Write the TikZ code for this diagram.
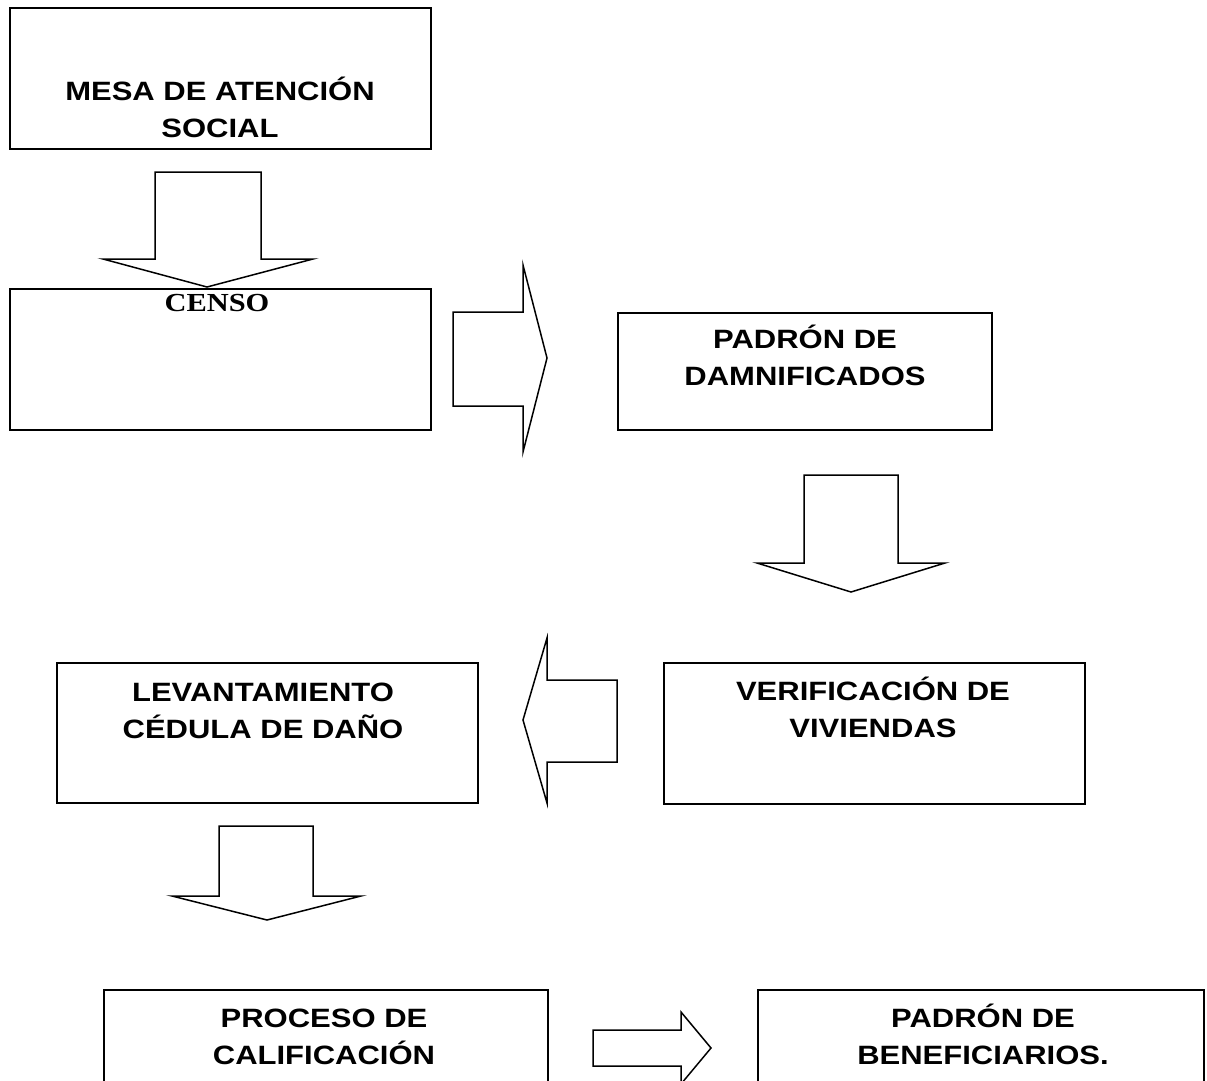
\documentclass[tikz,border=0pt]{standalone}
\usepackage{fontspec}
\setmainfont{Liberation Sans}
\newfontfamily\censofont{Liberation Serif}
\usepackage{graphicx}
\newcommand{\bxt}[1]{\scalebox{1.17}[1]{\begin{tabular}{@{}c@{}}#1\end{tabular}}}
\begin{document}
\begin{tikzpicture}[x=1pt,y=1pt,
  boxnode/.style={draw, line width=1.8pt, inner sep=0pt, anchor=north west},
  label/.style={inner sep=0pt, font=\fontsize{26.5pt}{37pt}\selectfont\bfseries},
  blk/.style={draw, line width=1.5pt, line join=miter, fill=white}]
\useasboundingbox (0,0) rectangle (1207,-1081);
\clip (0,0) rectangle (1207,-1081);

% boxes
\node[boxnode, minimum width=421pt, minimum height=141pt] (mesa) at (9,-7) {};
\node[boxnode, minimum width=421pt, minimum height=141pt] (censo) at (9,-288) {};
\node[boxnode, minimum width=374pt, minimum height=117pt] (damn) at (617,-312) {};
\node[boxnode, minimum width=421pt, minimum height=141pt] (verif) at (663,-662) {};
\node[boxnode, minimum width=421pt, minimum height=140pt] (levant) at (56,-662) {};
\node[boxnode, minimum width=444pt, minimum height=140pt] (proceso) at (103,-989) {};
\node[boxnode, minimum width=446pt, minimum height=140pt] (benef) at (757,-989) {};

% texts
\node[label] (tmesa) at (220,-112) {\bxt{MESA DE ATENCIÓN\\SOCIAL}};
\node[inner sep=0pt, font=\censofont\fontsize{26pt}{30pt}\selectfont\bfseries] (tcenso) at (217,-303) {\scalebox{1.17}[1]{CENSO}};
\node[label] (tdamn) at (805,-360) {\bxt{PADRÓN DE\\DAMNIFICADOS}};
\node[label] (tverif) at (873,-711.5) {\bxt{VERIFICACIÓN DE\\VIVIENDAS}};
\node[label] (tlevant) at (263,-712.5) {\bxt{LEVANTAMIENTO\\CÉDULA DE DAÑO}};
\node[label] (tproceso) at (324,-1038.5) {\bxt{PROCESO DE\\CALIFICACIÓN}};
\node[label] (tbenef) at (983,-1038.5) {\bxt{PADRÓN DE\\BENEFICIARIOS.}};

% block arrows
% 1 down: mesa -> censo
\draw[blk] (155,-172) -- (261,-172) -- (261,-259) -- (313,-259) -- (207,-287)
  -- (103,-259) -- (155,-259) -- cycle;
% 2 right: censo -> damn
\draw[blk] (453,-312) -- (523,-312) -- (523,-265) -- (547,-358) -- (523,-452)
  -- (523,-406) -- (453,-406) -- cycle;
% 3 down: damn -> verif
\draw[blk] (804,-475) -- (898,-475) -- (898,-563) -- (945,-563) -- (851,-592)
  -- (757,-563) -- (804,-563) -- cycle;
% 4 left: verif -> levant
\draw[blk] (617,-680) -- (547,-680) -- (547,-638) -- (523,-720) -- (547,-803)
  -- (547,-762) -- (617,-762) -- cycle;
% 5 down: levant -> proceso
\draw[blk] (219,-826) -- (313,-826) -- (313,-896) -- (361,-896) -- (267,-920)
  -- (172,-896) -- (219,-896) -- cycle;
% 6 right: proceso -> benef
\draw[blk] (593,-1030) -- (681,-1030) -- (681,-1012) -- (711,-1048) -- (681,-1084)
  -- (681,-1066) -- (593,-1066) -- cycle;
\end{tikzpicture}
\end{document}
